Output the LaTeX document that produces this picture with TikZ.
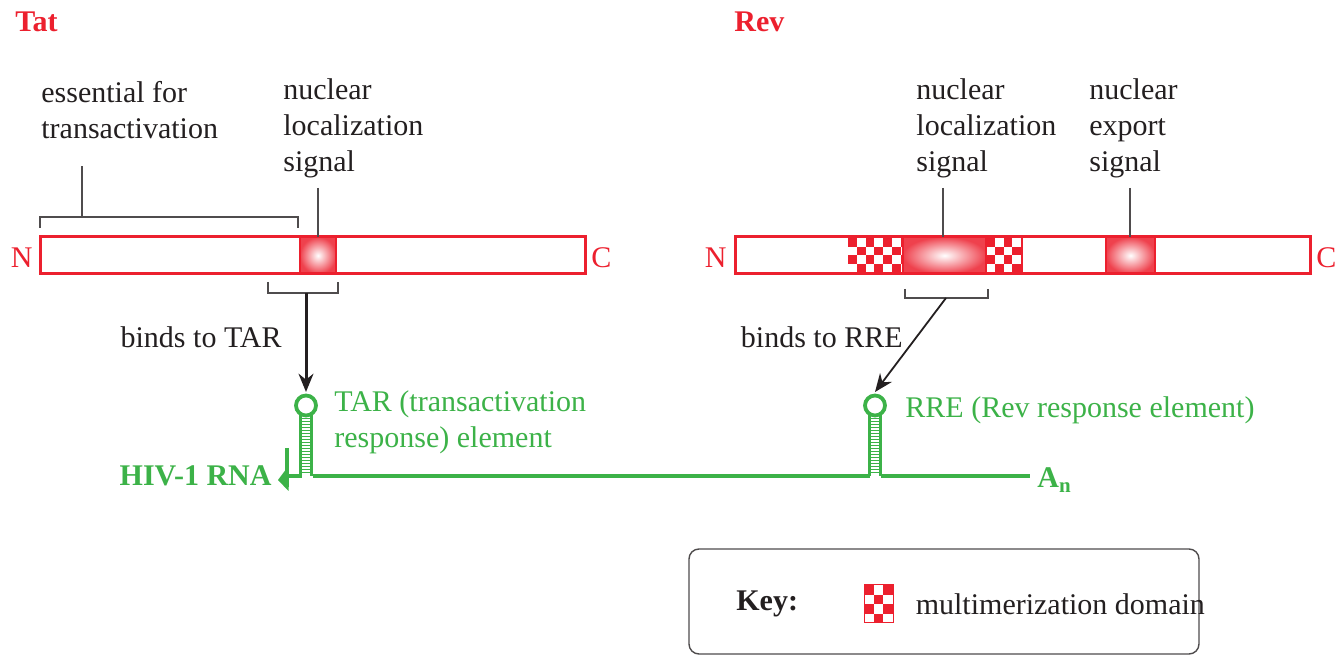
\documentclass[tikz,border=0pt]{standalone}
\usepackage{fontspec}
\setmainfont{Liberation Serif}
\usetikzlibrary{arrows.meta,positioning}
\definecolor{hivred}  {RGB}{236,32,46}
\definecolor{hivgreen}{RGB}{60,178,72}
\definecolor{ink}     {RGB}{35,31,32}
% checkered multimerization block: x0,y0,x1,y1,cell
\newcommand\checkfill[5]{%
  \begin{scope}
    \clip (#1,#2) rectangle (#3,#4);
    \fill[white] (#1,#2) rectangle (#3,#4);
    \foreach \i in {0,...,7}{\foreach \j in {0,...,4}{%
      \pgfmathtruncatemacro\csum{\i+\j}%
      \ifodd\csum\else
        \fill[hivred] ({#1+\i*#5},{#2+\j*#5}) rectangle +(#5,#5);
      \fi}}
  \end{scope}}
% RNA stem loop at x=#1, arrow target named #2
\newcommand\stemloop[2]{%
  \draw[rna,line width=1.9pt] (#1,405.5) circle (10);
  \foreach \yy in {418,421,...,474}
    \draw[hivgreen,line width=0.4pt] (#1-5.5,\yy) -- (#1+5.5,\yy);
  \draw[rna,line width=1.8pt] (#1-5.5,413.5) -- (#1-5.5,476) (#1+5.5,413.5) -- (#1+5.5,476);
  \coordinate (#2) at (#1,392);}
\tikzset{
  >={Stealth[length=3.2mm,width=2.6mm]},
  lbl/.style={font=\fontsize{15}{18}\selectfont,text=ink,inner sep=0pt,align=left},
  rlbl/.style={lbl,text=hivred},
  glbl/.style={lbl,text=hivgreen},
  title/.style={rlbl,font=\fontsize{15}{18}\selectfont\bfseries},
  bar/.style={draw=hivred,line width=1.5pt},
  sep/.style={draw=hivred,line width=0.8pt},
  brk/.style={draw=ink!80,line width=0.7pt},
  rna/.style={draw=hivgreen,line width=2pt},
  nls/.style={inner color=white,outer color=hivred!85},
}
\begin{document}
\begin{tikzpicture}[x=0.5pt,y=-0.5pt]
  \useasboundingbox (0,0) rectangle (1339,656);
  % protein names
  \node[title,anchor=west] (tat) at (15,22) {Tat};
  \node[title,anchor=west] (rev) at (734,22) {Rev};

  % ---- Tat ----
  \shade[nls] (300,237) rectangle (336,274);
  \draw[sep] (300,237) -- (300,274) (336,237) -- (336,274);
  \draw[bar] (40,237) rectangle (585,274);
  \node[rlbl,anchor=east] (tatN) at (33,258) {N};
  \node[rlbl,anchor=west] (tatC) at (591,258) {C};
  \node[lbl,anchor=west] (tatEss) at (41,110) {essential for\\transactivation};
  \node[lbl,anchor=west] (tatNLS) at (283,128) {nuclear\\localization\\signal};
  \coordinate (essTop) at (82,166);
  \coordinate (essBrk) at (82,217);
  \draw[brk] (40,228) -- (40,217) -- (298,217) -- (298,228);
  \draw[brk] (essBrk) -- (essTop);
  \coordinate (tatNLStop) at (318,188);
  \coordinate (tatNLSbar) at (318,237);
  \draw[brk] (tatNLStop) -- (tatNLSbar);
  \coordinate (tatBind) at (306,293);
  \draw[brk] (268,282) -- (268,293) -- (338,293) -- (338,282);
  \node[lbl,anchor=east] (bindTAR) at (282,337) {binds to TAR};

  % ---- Rev ----
  \checkfill{848}{238}{903}{273}{8.75}
  \shade[nls] (903,237) rectangle (986,274);
  \checkfill{986}{238}{1022}{273}{8.75}
  \shade[nls] (1106,237) rectangle (1155,274);
  \draw[sep] (903,237) -- (903,274) (986,237) -- (986,274) (1022,237) -- (1022,274)
             (1106,237) -- (1106,274) (1155,237) -- (1155,274);
  \draw[bar] (735,237) rectangle (1310,274);
  \node[rlbl,anchor=east] (revN) at (727,258) {N};
  \node[rlbl,anchor=west] (revC) at (1316,258) {C};
  \node[lbl,anchor=west] (revNLS) at (916,128) {nuclear\\localization\\signal};
  \node[lbl,anchor=west] (revNES) at (1089,128) {nuclear\\export\\signal};
  \coordinate (revNLStop) at (943,188);
  \coordinate (revNLSbar) at (943,237);
  \coordinate (revNEStop) at (1130,188);
  \coordinate (revNESbar) at (1130,237);
  \draw[brk] (revNLStop) -- (revNLSbar);
  \draw[brk] (revNEStop) -- (revNESbar);
  \coordinate (revBind) at (946,298);
  \draw[brk] (905,289) -- (905,298) -- (988,298) -- (988,289);
  \node[lbl,anchor=east] (bindRRE) at (903,337) {binds to RRE};

  % ---- HIV-1 RNA ----
  \draw[rna] (287,476) -- (1030,476);
  \draw[rna] (287,448) -- (287,487);
  \fill[hivgreen] (288.5,466) -- (278,480) -- (288.5,491) -- cycle;
  \fill[white] (302,470) rectangle (313,480);
  \fill[white] (870,470) rectangle (881,480);
  \stemloop{306}{tarTop}
  \stemloop{875}{rreTop}
  \node[glbl,font=\fontsize{15}{18}\selectfont\bfseries,anchor=east] (rna) at (272,476) {HIV-1 RNA};
  \node[glbl,anchor=west] (tarLbl) at (334,422) {TAR (transactivation\\response) element};
  \node[glbl,anchor=west] (rreLbl) at (905,410) {RRE (Rev response element)};
  \node[glbl,font=\fontsize{15}{18}\selectfont\bfseries,anchor=west] (polyA) at (1037,480) {A$_{\mathbf{n}}$};

  % binding arrows
  \draw[->,ink,line width=1.5pt] (tatBind) -- (tarTop);
  \draw[->,ink,line width=0.9pt] (revBind) -- (rreTop);

  % key
  \node[draw=ink!80,line width=0.7pt,rounded corners=5pt,
        minimum width=255pt,minimum height=52.5pt] (key) at (944,601.5) {};
  \node[lbl,font=\fontsize{15}{18}\selectfont\bfseries,anchor=west] (keyLbl) at (736,604) {Key:};
  \node[minimum width=14.5pt,minimum height=19pt,inner sep=0pt] (keyIcon) at (878.5,604) {};
  \checkfill{864}{585}{893}{623}{9.6}
  \draw[sep,line width=0.5pt] (864,585) rectangle (893,623);
  \node[lbl,right=11pt of keyIcon] (keyTxt) {multimerization domain};
\end{tikzpicture}
\end{document}
